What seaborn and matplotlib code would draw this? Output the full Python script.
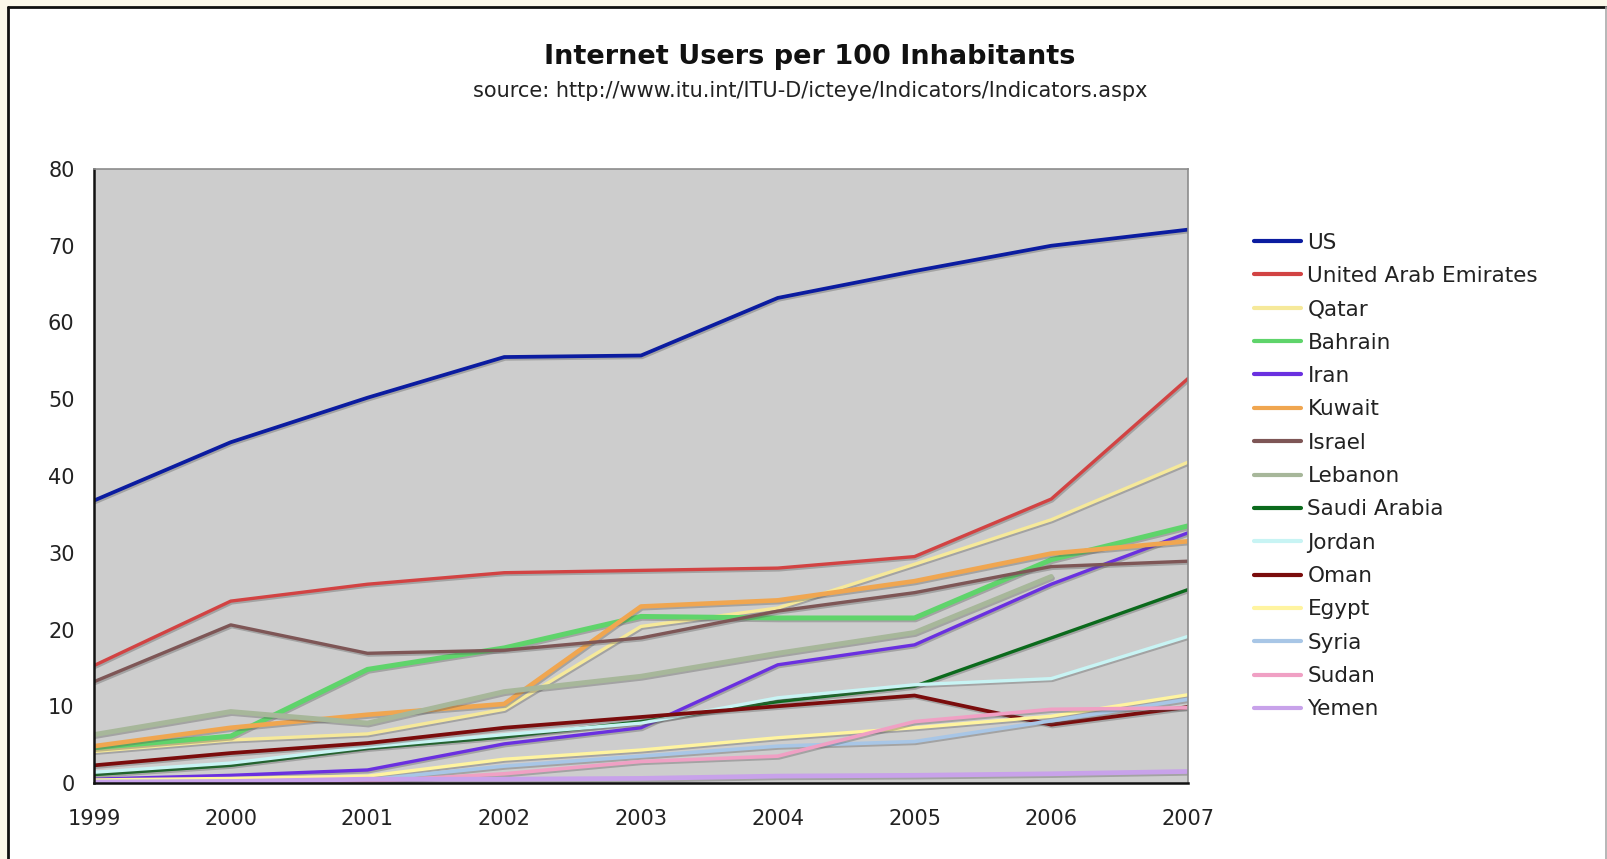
import numpy as np
import pandas as pd
import matplotlib
matplotlib.use("Agg")
import matplotlib.pyplot as plt
import matplotlib.patheffects as pe
from matplotlib.lines import Line2D
import seaborn as sns

years = [1999, 2000, 2001, 2002, 2003, 2004, 2005, 2006, 2007]

us = [36.8, 44.4, 50.2, 55.5, 55.7, 63.2, 66.7, 70.0, 72.1]
uae = [15.3, 23.7, 25.9, 27.4, 27.7, 28.0, 29.5, 37.0, 52.7]
qatar = [4.1, 5.6, 6.4, 9.6, 20.4, 22.8, 28.5, 34.3, 41.8]
bahrain = [4.6, 6.1, 14.8, 17.6, 21.7, 21.5, 21.5, 29.1, 33.5]
iran = [0.5, 1.0, 1.7, 5.1, 7.2, 15.4, 18.0, 25.9, 32.6]
kuwait = [4.8, 7.2, 8.9, 10.3, 23.0, 23.8, 26.3, 29.9, 31.5]
israel = [13.2, 20.6, 16.9, 17.3, 18.9, 22.4, 24.8, 28.2, 28.9]
lebanon = [6.3, 9.3, 7.8, 11.9, 13.9, 16.9, 19.6, 26.9, np.nan]
saudi = [1.1, 2.3, 4.5, 6.0, 8.0, 10.6, 12.6, 18.9, 25.2]
jordan = [1.4, 2.6, 4.7, 6.3, 7.8, 11.1, 12.8, 13.6, 19.1]
oman = [2.3, 3.9, 5.2, 7.2, 8.6, 10.0, 11.4, 7.6, 9.9]
egypt = [0.4, 0.6, 0.9, 3.1, 4.3, 5.9, 7.2, 8.7, 11.5]
syria = [0.2, 0.2, 0.4, 2.2, 3.5, 4.8, 5.4, 8.1, 10.9]
sudan = [0.0, 0.0, 0.2, 1.2, 2.8, 3.5, 8.0, 9.6, 9.8]
yemen = [0.1, 0.2, 0.5, 0.5, 0.6, 0.9, 1.0, 1.2, 1.5]

countries = ["US", "United Arab Emirates", "Qatar", "Bahrain", "Iran", "Kuwait",
             "Israel", "Lebanon", "Saudi Arabia", "Jordan", "Oman", "Egypt",
             "Syria", "Sudan", "Yemen"]
series = [us, uae, qatar, bahrain, iran, kuwait, israel, lebanon, saudi,
          jordan, oman, egypt, syria, sudan, yemen]
colors = ["#0b1ca0", "#d24343", "#f6e99a", "#5fd46b", "#6a30e0", "#f0a650",
          "#7e5656", "#a7b79a", "#0b6a1c", "#c8f4f4", "#7a0c0c", "#fff4a0",
          "#a8c6e6", "#f0a0c4", "#c8a2ea"]
widths = [2.7, 2.4, 2.4, 3.6, 2.4, 3.3, 2.4, 3.6, 2.4, 2.4, 2.7, 2.4, 2.6, 2.6, 3.4]

df = pd.DataFrame(
    [(c, y, v) for c, vals in zip(countries, series) for y, v in zip(years, vals)],
    columns=["country", "year", "users"],
)

sns.set_style("white")
plt.rcParams["font.family"] = ["DejaVu Sans"]

fig = plt.figure(figsize=(16.07, 8.59), dpi=100, facecolor="white")
# page frame: cream margin outside, dark rule on left/top, grey rule on right
fx, fy = 8 / 1607, 1 - 7 / 859
fig.add_artist(plt.Rectangle((0, 0), fx, 1, transform=fig.transFigure,
                             facecolor="#fbf8ea", edgecolor="none", zorder=-5))
fig.add_artist(plt.Rectangle((0, fy), 1, 1 - fy, transform=fig.transFigure,
                             facecolor="#fbf8ea", edgecolor="none", zorder=-5))
fig.add_artist(Line2D([fx, fx], [0, fy], color="#111111", lw=2,
                      transform=fig.transFigure))
fig.add_artist(Line2D([fx, 1 - 1.5 / 1607], [fy, fy], color="#111111", lw=2,
                      transform=fig.transFigure))
fig.add_artist(Line2D([1 - 1.5 / 1607, 1 - 1.5 / 1607], [0, fy], color="#aaaaaa",
                      lw=1.2, transform=fig.transFigure))

ax = fig.add_axes([94 / 1607, 1 - 783 / 859, (1188 - 94) / 1607, (783 - 169) / 859])
ax.set_zorder(2)
ax.set_facecolor("#cdcdcd")

shadow = [pe.SimpleLineShadow(offset=(0.8, -1.3), shadow_color="#555555", alpha=0.35),
          pe.Normal()]

handles = []
for name, col, lw in zip(countries, colors, widths):
    sub = df[df["country"] == name]
    sns.lineplot(data=sub, x="year", y="users", color=col, linewidth=lw,
                 ax=ax, legend=False, path_effects=shadow)
    handles.append(Line2D([], [], color=col, lw=3))

ax.set_xlim(1999, 2007)
ax.set_ylim(0, 80)
ax.set_xticks(years)
ax.set_yticks(range(0, 81, 10))
ax.set_xlabel("")
ax.set_ylabel("")
ax.tick_params(axis="both", direction="out", length=7, width=1.5, colors="#111111",
               labelsize=15, labelcolor="#222222", pad=7)
ax.tick_params(axis="x", pad=12)
for side in ["left", "bottom"]:
    ax.spines[side].set_color("#111111")
    ax.spines[side].set_linewidth(1.8)
for side in ["top", "right"]:
    ax.spines[side].set_color("#8c8c8c")
    ax.spines[side].set_linewidth(1.2)

fig.text(810 / 1607, 1 - 57 / 859, "Internet Users per 100 Inhabitants",
         ha="center", va="center", fontsize=19.5, fontweight="bold", color="#111111")
fig.text(810 / 1607, 1 - 91 / 859,
         "source: http://www.itu.int/ITU-D/icteye/Indicators/Indicators.aspx",
         ha="center", va="center", fontsize=15, color="#222222")

leg = fig.legend(handles, countries, loc="upper left",
                 bbox_to_anchor=(1245 / 1607, 1 - 224 / 859),
                 frameon=False, fontsize=15.5, handlelength=2.2, handletextpad=0.3,
                 labelspacing=0.62, borderaxespad=0)
for t in leg.get_texts():
    t.set_color("#222222")

fig.savefig("out.png", dpi=100, facecolor=fig.get_facecolor())
